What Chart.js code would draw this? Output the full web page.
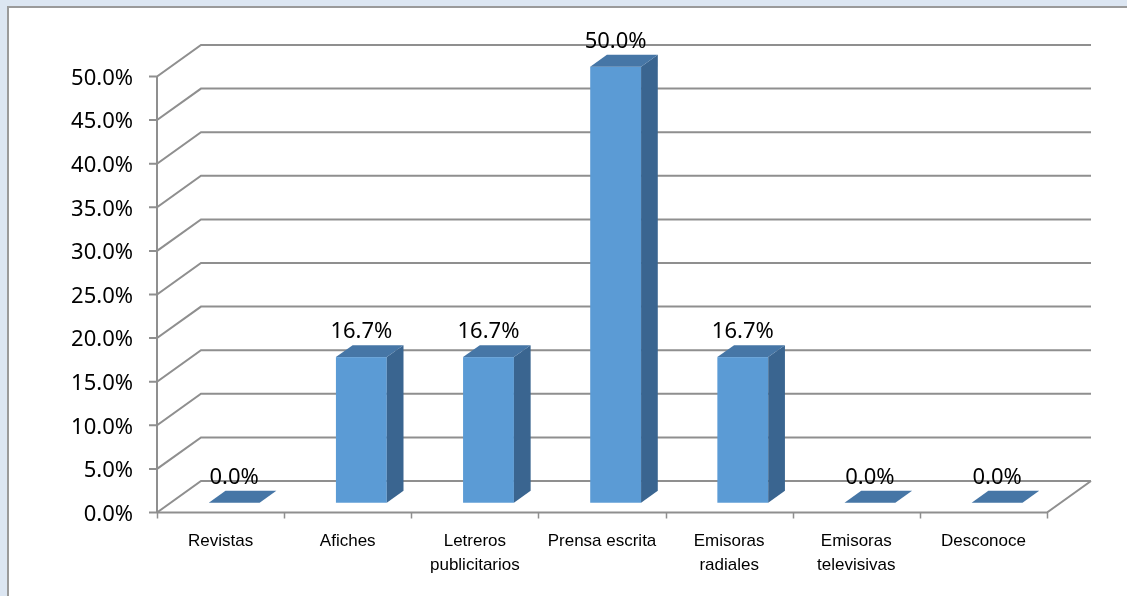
<!DOCTYPE html>
<html>
<head>
<meta charset="utf-8">
<title>Medios de información</title>
<script src="https://cdn.jsdelivr.net/npm/chart.js@4.4.1/dist/chart.umd.min.js"></script>
<style>
  html, body { margin: 0; padding: 0; background: #dce6f2; }
  canvas { display: block; }
</style>
</head>
<body>
<canvas id="medios" width="1127" height="596"></canvas>
<script>
  // datos
  const categorias = [["Revistas"], ["Afiches"], ["Letreros", "publicitarios"], ["Prensa escrita"],
                      ["Emisoras", "radiales"], ["Emisoras", "televisivas"], ["Desconoce"]];
  const porcentajes = [0.0, 16.7, 16.7, 50.0, 16.7, 0.0, 0.0];
  const marcasY = [0, 5, 10, 15, 20, 25, 30, 35, 40, 45, 50];

  // profundidad de la caja 3D y posición de las barras dentro de ella
  const prof = { dx: 44, dy: -31.5 };
  const barraIni = 0.31, barraFin = 0.69;
  const colores = { frente: '#5b9bd5', arriba: '#4676a6', lado: '#3a6590', rejilla: '#8f8f8f' };
  const fuenteNum = '22px "Noto Sans"';

  function fmt(v) { return v.toFixed(1) + '%'; }

  const caja3d = {
    id: 'caja3d',
    beforeDraw(chart) {
      const ctx = chart.ctx, W = chart.width, H = chart.height;
      ctx.save();
      ctx.fillStyle = '#dce6f2';
      ctx.fillRect(0, 0, W, H);
      ctx.fillStyle = '#9a9a9a';
      ctx.fillRect(7, 6, W - 7, H - 6);
      ctx.fillStyle = '#ffffff';
      ctx.fillRect(9, 8, W - 9, H - 8);
      ctx.restore();
    },
    beforeDatasetsDraw(chart) {
      const { ctx, chartArea: a, scales: { x, y } } = chart;
      ctx.save();
      ctx.strokeStyle = colores.rejilla;
      ctx.lineWidth = 2;

      // pared del fondo, pared izquierda y marcas del eje Y
      marcasY.forEach(v => {
        const py = y.getPixelForValue(v);
        ctx.beginPath();
        ctx.moveTo(a.left - 8, py);
        ctx.lineTo(a.left, py);
        ctx.lineTo(a.left + prof.dx, py + prof.dy);
        ctx.lineTo(a.right + prof.dx, py + prof.dy);
        ctx.stroke();
      });

      // eje vertical frontal
      ctx.beginPath();
      ctx.moveTo(a.left, y.getPixelForValue(marcasY[marcasY.length - 1]));
      ctx.lineTo(a.left, a.bottom);
      ctx.stroke();

      // piso
      ctx.beginPath();
      ctx.moveTo(a.left, a.bottom);
      ctx.lineTo(a.right, a.bottom);
      ctx.lineTo(a.right + prof.dx, a.bottom + prof.dy);
      ctx.stroke();

      // marcas del eje X
      const n = categorias.length, paso = (a.right - a.left) / n;
      ctx.lineWidth = 1.5;
      for (let i = 0; i <= n; i++) {
        const px = Math.round(a.left + i * paso) + 0.5;
        ctx.beginPath();
        ctx.moveTo(px, a.bottom);
        ctx.lineTo(px, a.bottom + 6);
        ctx.stroke();
      }

      // barras 3D
      const meta = chart.getDatasetMeta(0);
      const ox = prof.dx * barraIni, oy = prof.dy * barraIni;
      const sx = prof.dx * (barraFin - barraIni), sy = prof.dy * (barraFin - barraIni);
      meta.data.forEach((bar, i) => {
        const p = bar.getProps(['x', 'y', 'base', 'width'], true);
        const xl = p.x - p.width / 2 + ox, xr = p.x + p.width / 2 + ox;
        const yt = p.y + oy, yb = p.base + oy;

        if (yb - yt > 0.5) {
          ctx.fillStyle = colores.frente;
          ctx.fillRect(xl, yt, xr - xl, yb - yt);
          ctx.fillStyle = colores.lado;
          ctx.beginPath();
          ctx.moveTo(xr, yt);
          ctx.lineTo(xr + sx, yt + sy);
          ctx.lineTo(xr + sx, yb + sy);
          ctx.lineTo(xr, yb);
          ctx.closePath();
          ctx.fill();
        }
        ctx.fillStyle = colores.arriba;
        ctx.beginPath();
        ctx.moveTo(xl, yt);
        ctx.lineTo(xr, yt);
        ctx.lineTo(xr + sx, yt + sy);
        ctx.lineTo(xl + sx, yt + sy);
        ctx.closePath();
        ctx.fill();

        // etiqueta de valor
        ctx.fillStyle = '#000';
        ctx.font = fuenteNum;
        ctx.textAlign = 'center';
        ctx.textBaseline = 'middle';
        ctx.fillText(fmt(porcentajes[i]), (xl + xr) / 2, yt - 25);
      });

      ctx.restore();
      return false;
    }
  };

  new Chart(document.getElementById('medios'), {
    type: 'bar',
    data: {
      labels: categorias,
      datasets: [{
        data: porcentajes,
        barPercentage: 0.5,
        categoryPercentage: 0.8,
        backgroundColor: colores.frente
      }]
    },
    options: {
      responsive: false,
      animation: false,
      devicePixelRatio: 1,
      layout: { padding: { left: 9, top: 76.5, right: 80, bottom: 0 } },
      plugins: { legend: { display: false }, tooltip: { enabled: false } },
      scales: {
        x: {
          afterFit: s => { s.height = 83.5; },
          grid: { display: false, drawTicks: false },
          border: { display: false },
          ticks: {
            padding: 17, color: '#000', autoSkip: false, maxRotation: 0,
            font: { family: 'Liberation Sans', size: 17, lineHeight: 1.4 }
          }
        },
        y: {
          min: 0, max: 50,
          afterBuildTicks: s => { s.ticks = marcasY.map(v => ({ value: v })); },
          afterFit: s => { s.width = 148; },
          grid: { display: false, drawTicks: false },
          border: { display: false },
          ticks: {
            padding: 24, labelOffset: 2, color: '#000',
            font: { family: 'Noto Sans', size: 22 },
            callback: v => fmt(v)
          }
        }
      }
    },
    plugins: [caja3d]
  });
</script>
</body>
</html>
